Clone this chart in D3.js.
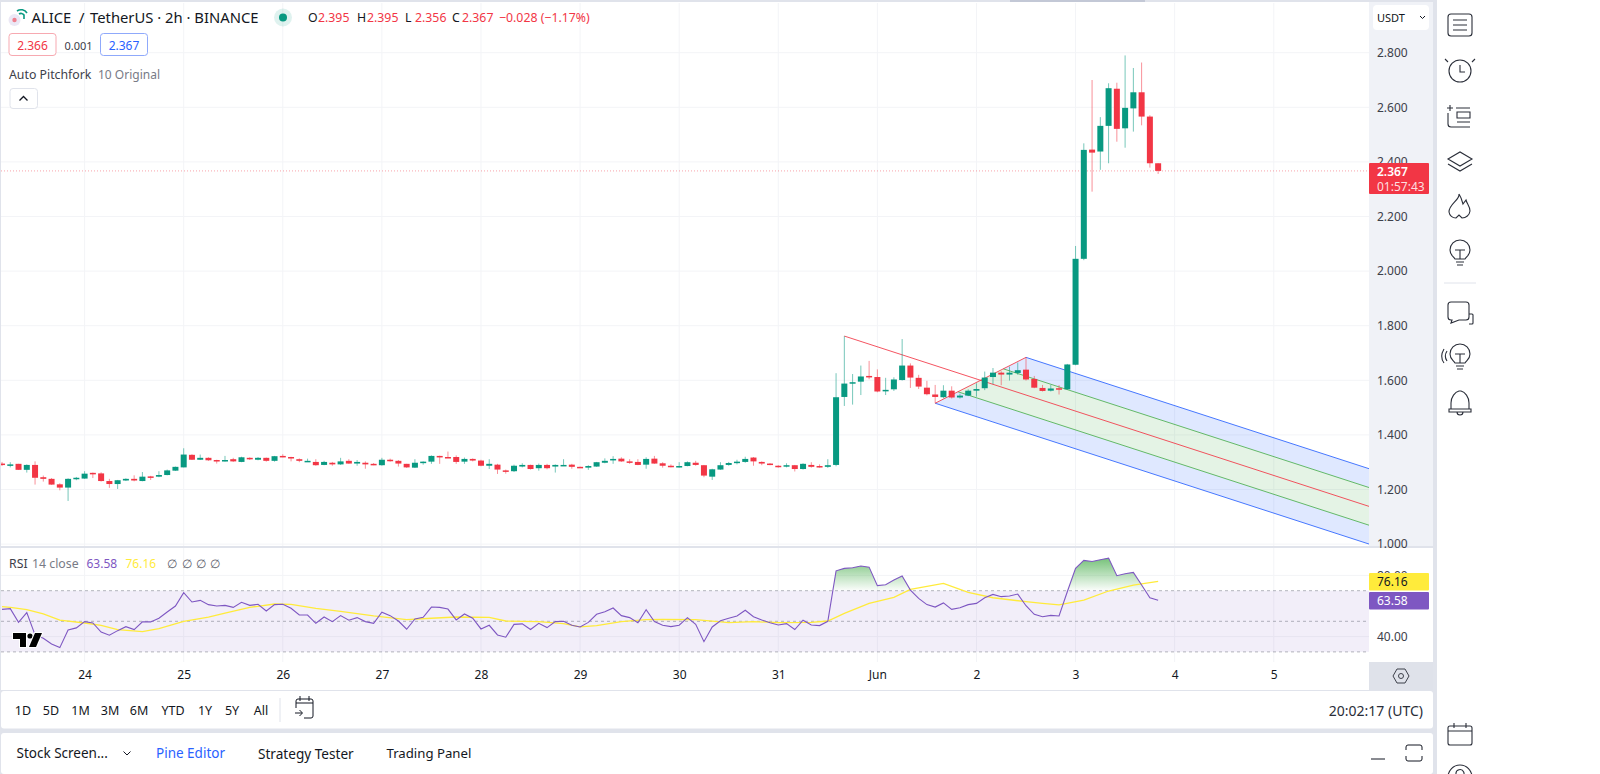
<!DOCTYPE html>
<html>
<head>
<meta charset="utf-8">
<title>ALICE / TetherUS</title>
<script src="https://cdn.jsdelivr.net/npm/d3@7"></script>
<style>
  html, body { margin: 0; padding: 0; background: #fff; overflow: hidden; }
  svg { display: block; font-family: "Noto Sans", sans-serif; }
  .axis path.domain { display: none; }
</style>
</head>
<body>
<svg id="chart" width="1600" height="774"></svg>
<script>
// candles: one value per 2h bar, first bar is 10 bars before the "24" tick
var firstBar = -10;
var openPrices = [1.295,1.289,1.294,1.272,1.290,1.245,1.239,1.219,1.207,1.239,
  1.240,1.261,1.259,1.231,1.220,1.233,1.239,1.231,1.248,1.247,1.253,1.269,1.281,1.327,1.309,1.316,1.308,1.305,1.311,1.301,
  1.316,1.309,1.316,1.305,1.323,1.319,1.311,1.303,1.301,1.290,1.298,1.292,1.305,1.295,1.298,1.294,1.289,1.309,1.305,1.294,
  1.280,1.298,1.302,1.323,1.319,1.319,1.302,1.312,1.306,1.287,1.291,1.270,1.267,1.284,1.290,1.278,1.290,1.284,1.287,1.291,
  1.283,1.280,1.284,1.298,1.307,1.313,1.303,1.301,1.291,1.313,1.296,1.287,1.283,1.286,1.298,1.289,1.247,1.273,1.290,1.297,
  1.301,1.317,1.301,1.295,1.287,1.284,1.289,1.275,1.290,1.286,1.283,
  1.290,1.539,1.588,1.595,1.616,1.612,1.561,1.567,1.601,1.654,1.609,1.573,1.548,1.538,1.562,1.537,1.544,1.562,1.571,1.612,
  1.628,1.621,1.627,1.639,1.605,1.572,1.562,1.571,1.567,1.657,2.045,2.445,2.438,2.532,2.668,2.523,2.596,2.655,2.566,2.395];
var highPrices = [1.301,1.300,1.294,1.292,1.303,1.251,1.242,1.223,1.241,1.246,
  1.267,1.262,1.263,1.239,1.235,1.241,1.252,1.264,1.250,1.267,1.273,1.284,1.351,1.329,1.328,1.318,1.309,1.323,1.316,1.320,
  1.318,1.319,1.317,1.323,1.329,1.320,1.314,1.313,1.311,1.305,1.301,1.316,1.311,1.308,1.303,1.297,1.316,1.313,1.308,1.294,
  1.311,1.303,1.325,1.324,1.339,1.325,1.317,1.314,1.309,1.311,1.294,1.273,1.291,1.296,1.291,1.295,1.294,1.292,1.311,1.294,
  1.284,1.289,1.301,1.314,1.322,1.318,1.311,1.311,1.318,1.323,1.300,1.292,1.300,1.303,1.305,1.290,1.276,1.300,1.301,1.309,
  1.320,1.319,1.303,1.297,1.289,1.296,1.290,1.296,1.300,1.292,1.311,
  1.626,1.762,1.623,1.654,1.671,1.640,1.609,1.611,1.751,1.662,1.620,1.598,1.583,1.582,1.578,1.551,1.567,1.589,1.632,1.645,
  1.633,1.650,1.665,1.684,1.616,1.583,1.583,1.582,1.660,2.092,2.468,2.700,2.564,2.688,2.690,2.790,2.744,2.764,2.571,2.395];
var lowPrices = [1.286,1.281,1.272,1.262,1.218,1.229,1.217,1.197,1.158,1.234,
  1.239,1.242,1.229,1.206,1.202,1.231,1.230,1.230,1.235,1.245,1.252,1.268,1.281,1.308,1.308,1.305,1.295,1.302,1.301,1.300,
  1.308,1.307,1.302,1.302,1.318,1.303,1.300,1.301,1.287,1.289,1.287,1.290,1.294,1.287,1.276,1.289,1.287,1.302,1.284,1.279,
  1.279,1.291,1.294,1.294,1.316,1.294,1.294,1.303,1.285,1.275,1.257,1.258,1.264,1.281,1.273,1.269,1.274,1.262,1.286,1.276,
  1.279,1.272,1.283,1.296,1.294,1.301,1.294,1.289,1.276,1.294,1.280,1.281,1.280,1.285,1.287,1.245,1.235,1.272,1.287,1.292,
  1.298,1.287,1.289,1.289,1.280,1.281,1.266,1.273,1.280,1.280,1.279,
  1.285,1.506,1.511,1.546,1.604,1.556,1.546,1.561,1.599,1.572,1.568,1.545,1.516,1.534,1.533,1.533,1.542,1.540,1.564,1.586,
  1.582,1.599,1.620,1.599,1.571,1.559,1.559,1.548,1.565,1.655,2.040,2.291,2.371,2.395,2.474,2.452,2.511,2.534,2.379,2.356];
var closePrices = [1.290,1.292,1.272,1.290,1.243,1.239,1.218,1.207,1.239,1.243,
  1.258,1.258,1.231,1.220,1.234,1.239,1.233,1.247,1.246,1.253,1.270,1.283,1.328,1.309,1.316,1.307,1.305,1.308,1.303,1.318,
  1.312,1.316,1.305,1.322,1.322,1.316,1.305,1.305,1.289,1.301,1.292,1.303,1.295,1.301,1.292,1.291,1.309,1.305,1.295,1.281,
  1.298,1.302,1.323,1.320,1.317,1.301,1.312,1.306,1.287,1.294,1.273,1.267,1.287,1.290,1.275,1.290,1.278,1.290,1.290,1.283,
  1.280,1.286,1.300,1.305,1.312,1.303,1.298,1.290,1.312,1.295,1.287,1.285,1.286,1.300,1.290,1.251,1.274,1.289,1.297,1.302,
  1.312,1.303,1.295,1.290,1.284,1.289,1.275,1.294,1.283,1.285,1.289,
  1.538,1.588,1.593,1.614,1.612,1.559,1.565,1.603,1.654,1.610,1.577,1.549,1.539,1.562,1.537,1.544,1.562,1.568,1.610,1.628,
  1.621,1.628,1.637,1.603,1.573,1.561,1.570,1.566,1.658,2.045,2.444,2.434,2.532,2.670,2.521,2.598,2.655,2.566,2.395,2.367];

// rsi, same bars as the candles
var rsiValues = [57.8,58.3,49.3,55.7,41.1,38.9,35.2,32.8,44.3,45.7,
  49.8,48.9,43.0,40.9,43.9,46.5,44.6,49.6,49.6,52.0,56.1,60.0,68.7,62.6,63.7,60.9,60.0,60.4,59.1,62.4,
  60.4,61.1,56.7,60.9,61.1,58.5,54.1,54.1,48.7,52.8,49.8,53.7,50.7,52.4,49.8,48.7,55.9,53.7,50.2,44.8,
  51.5,52.6,59.3,59.1,58.0,50.9,54.8,52.0,45.0,47.4,41.1,39.6,48.0,48.3,44.6,48.7,45.9,49.8,50.0,47.4,
  46.3,49.3,54.6,56.3,58.7,53.7,52.4,49.1,57.6,49.8,47.4,46.5,47.4,52.4,48.0,36.7,46.3,50.4,52.0,53.5,
  57.2,53.0,50.9,49.1,47.6,48.5,44.6,50.7,47.6,47.2,50.0,
  83.0,84.6,85.0,86.1,85.4,73.3,73.9,77.0,79.6,70.4,65.0,60.9,59.3,62.0,57.8,58.9,60.9,61.7,65.4,67.6,
  66.1,66.5,67.8,60.2,54.6,53.0,53.9,53.5,69.3,84.6,89.8,89.1,90.2,91.3,79.8,81.1,82.0,73.7,65.4,63.7];

// yellow rsi average, read at its bends
var maBars = [-10,-9,-7,-5,-3,0,2,4,7,9,12,15,17,20,23,25,28,31,35,39,42,45,49,51,55,58,60,62,65,68,70,74,78,81,84,88,90,92,95,98,100,104,107,110,114,116,118,121,124,127,130];
var maValues = [59.6,59.1,57.6,54.8,50.7,48.9,47.4,44.6,43.3,45.2,50.0,52.8,55.4,59.1,61.3,61.1,58.5,56.5,53.5,51.1,52.0,52.8,52.6,50.2,49.8,48.5,46.3,47.2,49.8,51.1,51.3,51.1,49.1,49.8,49.1,49.3,50.2,55.2,61.7,65.7,70.9,74.8,68.9,65.4,62.8,61.7,60.7,63.9,69.8,73.7,76.16];

// pitchfork anchors: handle, upper, lower
var forkBars = [92, 114, 103];
var forkPrices = [1.762, 1.684, 1.516];
var forkEndBar = 156;

var priceTicks = [1.0,1.2,1.4,1.6,1.8,2.0,2.2,2.4,2.6,2.8];
var rsiTicks = [80, 40];
var rsiLevels = [70, 50, 30];
var dayBars = [0,12,24,36,48,60,72,84,96,108,120,132,144];
var dayLabels = ["24","25","26","27","28","29","30","31","Jun","2","3","4","5"];
var rangeLabels = ["1D","5D","1M","3M","6M","YTD","1Y","5Y","All"];
var rangeCenters = [23,51,80.5,110,139,173,205,232,261];

var up = "#089981", down = "#f23645", gridCol = "#f3f4f7", bg = "#e0e3eb", textCol = "#131722", muted = "#5d606b";
var paneRight = 1369;

var svg = d3.select("#chart");
var x = d3.scaleLinear().domain([0, 144]).range([84.6, 84.6 + 144 * 8.258]);
var y = d3.scaleLinear().domain([1.0, 2.8]).range([544.1, 52.7]);
var r = d3.scaleLinear().domain([30, 70]).range([651.9, 590.7]);

function label(sel, txt, px, py, col, size, anchor, weight) {
  return sel.append("text").attr("x", px).attr("y", py).attr("fill", col || textCol)
    .attr("font-size", size || 12).attr("text-anchor", anchor || "start")
    .attr("font-weight", weight || 400).attr("dominant-baseline", "central").text(txt);
}
function box(sel, bx, by, w, h, fill, rx, stroke) {
  return sel.append("rect").attr("x", bx).attr("y", by).attr("width", w).attr("height", h)
    .attr("fill", fill).attr("rx", rx || 0).attr("stroke", stroke || "none");
}

// panels
box(svg, 0, 0, 1437, 774, bg);
box(svg, 1437, 0, 163, 774, "#fff");
box(svg, 1, 2, 1432, 688, "#fff");
box(svg, 1, 691, 1432, 37.5, "#fff", 3);
box(svg, 1, 733, 1432, 41, "#fff", 3);
box(svg, 1010, 0, 135, 2, "#c3c8d6");
box(svg, paneRight, 2, 64, 544.5, "#f0f2f7");
box(svg, paneRight, 662, 64, 28, "#dfe2ea");

var defs = svg.append("defs");
defs.append("clipPath").attr("id", "mainClip").append("rect")
  .attr("x", 1).attr("y", 3).attr("width", paneRight - 1).attr("height", 543);
defs.append("clipPath").attr("id", "obClip").append("rect")
  .attr("x", 1).attr("y", 547).attr("width", paneRight - 1).attr("height", r(70) - 547);
var grad = defs.append("linearGradient").attr("id", "obFill").attr("gradientUnits", "userSpaceOnUse")
  .attr("x1", 0).attr("x2", 0).attr("y1", r(91)).attr("y2", r(70));
grad.append("stop").attr("offset", 0).attr("stop-color", "#4caf50").attr("stop-opacity", 0.75);
grad.append("stop").attr("offset", 1).attr("stop-color", "#4caf50").attr("stop-opacity", 0.02);

// grid
var grid = svg.append("g").attr("stroke", gridCol).attr("stroke-width", 1);
dayBars.forEach(function(b) {
  grid.append("line").attr("x1", x(b)).attr("x2", x(b)).attr("y1", 3).attr("y2", 662);
});
priceTicks.forEach(function(p) {
  grid.append("line").attr("x1", 1).attr("x2", paneRight).attr("y1", y(p)).attr("y2", y(p));
});
grid.append("line").attr("x1", 1).attr("x2", paneRight).attr("y1", r(80)).attr("y2", r(80));
grid.append("line").attr("x1", 1).attr("x2", paneRight).attr("y1", r(40)).attr("y2", r(40));

// pitchfork
var main = svg.append("g").attr("clip-path", "url(#mainClip)");
var midBar = (forkBars[1] + forkBars[2]) / 2, midPrice = (forkPrices[1] + forkPrices[2]) / 2;
var forkSlope = (midPrice - forkPrices[0]) / (midBar - forkBars[0]);
function forkEdge(level) {
  var b0 = midBar + level * (forkBars[1] - midBar), p0 = midPrice + level * (forkPrices[1] - midPrice);
  return [[x(b0), y(p0)], [x(forkEndBar), y(p0 + (forkEndBar - b0) * forkSlope)]];
}
function forkBand(a, b, col) {
  var e1 = forkEdge(a), e2 = forkEdge(b);
  main.append("path").attr("d", d3.line()([e1[0], e1[1], e2[1], e2[0]]) + "Z").attr("fill", col).attr("fill-opacity", 0.15);
}
forkBand(0.5, 1, "#2962ff");
forkBand(-1, -0.5, "#2962ff");
forkBand(-0.5, 0.5, "#4caf50");
[[1, "#2962ff"], [-1, "#2962ff"], [0.5, "#4caf50"], [-0.5, "#4caf50"]].forEach(function(l) {
  main.append("path").attr("d", d3.line()(forkEdge(l[0]))).attr("stroke", l[1]).attr("fill", "none").attr("opacity", 0.85);
});
main.append("path").attr("d", d3.line()([[x(forkBars[0]), y(forkPrices[0])], forkEdge(0)[1]]))
  .attr("stroke", down).attr("fill", "none").attr("opacity", 0.85);
main.append("path").attr("d", d3.line()([[x(forkBars[2]), y(forkPrices[2])], [x(forkBars[1]), y(forkPrices[1])]]))
  .attr("stroke", down).attr("fill", "none").attr("opacity", 0.85);

// last price line
main.append("line").attr("x1", 1).attr("x2", paneRight).attr("y1", y(2.367)).attr("y2", y(2.367))
  .attr("stroke", down).attr("stroke-opacity", 0.45).attr("stroke-dasharray", "1 2");

// candles
var bars = main.selectAll("g.bar").data(d3.range(openPrices.length)).join("g").attr("class", "bar")
  .attr("fill", function(i) { return closePrices[i] >= openPrices[i] ? up : down; })
  .attr("stroke", function(i) { return closePrices[i] >= openPrices[i] ? up : down; });
bars.append("line")
  .attr("x1", function(i) { return x(i + firstBar); }).attr("x2", function(i) { return x(i + firstBar); })
  .attr("y1", function(i) { return y(highPrices[i]); }).attr("y2", function(i) { return y(lowPrices[i]); })
  .attr("stroke-opacity", 0.55);
bars.append("rect").attr("stroke", "none")
  .attr("x", function(i) { return x(i + firstBar) - 3; }).attr("width", 6)
  .attr("y", function(i) { return y(Math.max(openPrices[i], closePrices[i])); })
  .attr("height", function(i) { return Math.max(1.5, Math.abs(y(openPrices[i]) - y(closePrices[i]))); });

// rsi pane
box(svg, 1, 546, 1432, 2, bg);
box(svg, 1, r(70), paneRight - 1, r(30) - r(70), "#7e57c2").attr("fill-opacity", 0.1);
rsiLevels.forEach(function(v) {
  svg.append("line").attr("x1", 1).attr("x2", paneRight).attr("y1", r(v)).attr("y2", r(v))
    .attr("stroke", "#787b86").attr("stroke-opacity", 0.55).attr("stroke-dasharray", "3 3");
});
var rsiBars = rsiValues.map(function(v, i) { return i + firstBar; });
svg.append("path").attr("clip-path", "url(#obClip)").attr("fill", "url(#obFill)")
  .attr("d", d3.area().x(function(b) { return x(b); }).y0(r(70))
    .y1(function(b) { return r(rsiValues[b - firstBar]); })(rsiBars));
svg.append("path").attr("fill", "none").attr("stroke", "#ffeb3b").attr("stroke-width", 1.3)
  .attr("d", d3.line().x(function(b) { return x(b); }).y(function(b, i) { return r(maValues[i]); })(maBars));
svg.append("path").attr("fill", "none").attr("stroke", "#7e57c2").attr("stroke-width", 1.1)
  .attr("d", d3.line().x(function(b) { return x(b); }).y(function(b) { return r(rsiValues[b - firstBar]); })(rsiBars));

// axes
var priceAxis = svg.append("g").attr("class", "axis").attr("transform", "translate(" + paneRight + ",0)")
  .call(d3.axisRight(y).tickValues(priceTicks).tickSize(0).tickPadding(8).tickFormat(d3.format(".3f")));
var rsiAxis = svg.append("g").attr("class", "axis").attr("transform", "translate(" + paneRight + ",0)")
  .call(d3.axisRight(r).tickValues(rsiTicks).tickSize(0).tickPadding(8).tickFormat(d3.format(".2f")));
var timeAxis = svg.append("g").attr("class", "axis").attr("transform", "translate(0,662)")
  .call(d3.axisBottom(x).tickValues(dayBars).tickSize(0).tickPadding(8)
    .tickFormat(function(d, i) { return dayLabels[i]; }));
svg.selectAll(".axis text").attr("font-size", 12).attr("font-family", '"Noto Sans", sans-serif').attr("fill", textCol);
priceAxis.selectAll("text").attr("fill", "#3d404a");
rsiAxis.selectAll("text").attr("fill", "#3d404a");

// price tags
box(svg, paneRight, 163, 60, 31, down, 1);
label(svg, "2.367", 1377, 171.5, "#fff", 12, "start", 600);
label(svg, "01:57:43", 1377, 186, "#fff", 12).attr("fill-opacity", 0.85);
box(svg, paneRight, 573, 60, 17.5, "#ffeb3b", 1);
label(svg, "76.16", 1377, 581.5, textCol, 12);
box(svg, paneRight, 592, 60, 17.5, "#7e57c2", 1);
label(svg, "63.58", 1377, 600.5, "#fff", 12);

// usdt button
box(svg, 1373, 5, 56, 25, "#fff", 4);
label(svg, "USDT", 1377, 17.5, textCol, 11);
svg.append("path").attr("d", "M1420 16l2.5 2.5 2.5-2.5").attr("fill", "none").attr("stroke", textCol);

// header legend
svg.append("circle").attr("cx", 14.5).attr("cy", 20).attr("r", 6).attr("fill", "#ebe8f5");
svg.append("circle").attr("cx", 14.5).attr("cy", 20).attr("r", 2.2).attr("fill", "#ef7f8d");
svg.append("path").attr("d", "M17 11a7 7 0 0 1 10 2M19 14a3.5 3.5 0 0 1 5 1v4").attr("fill", "none").attr("stroke", up).attr("stroke-width", 1.6);
label(svg, "ALICE", 31.5, 17, textCol, 14.8);
label(svg, "/", 79, 17, textCol, 14.8);
label(svg, "TetherUS · 2h · BINANCE", 90, 17, textCol, 14.8);
svg.append("circle").attr("cx", 283).attr("cy", 17.5).attr("r", 9).attr("fill", up).attr("fill-opacity", 0.13);
svg.append("circle").attr("cx", 283).attr("cy", 17.5).attr("r", 4).attr("fill", up);
var ohlcNames = ["O", "H", "L", "C"], ohlcVals = ["2.395", "2.395", "2.356", "2.367"], ohlcX = [308, 357, 405, 452];
ohlcNames.forEach(function(n, i) {
  label(svg, n, ohlcX[i], 17.5, textCol, 12.3);
  label(svg, ohlcVals[i], ohlcX[i] + 10, 17.5, down, 12.3);
});
label(svg, "−0.028 (−1.17%)", 499, 17.5, down, 12.3);
box(svg, 9, 33.5, 47, 22, "#fff", 3, "#f7a9b1");
label(svg, "2.366", 32.5, 45, down, 12, "middle");
label(svg, "0.001", 64.5, 45, "#3d404a", 11);
box(svg, 100.5, 33.5, 47, 22, "#fff", 3, "#8fa9fb");
label(svg, "2.367", 124, 45, "#2962ff", 12, "middle");
label(svg, "Auto Pitchfork", 9, 74.5, "#3d404a", 12.3);
label(svg, "10 Original", 98, 74.5, "#787b86", 12);
box(svg, 10, 88.5, 27.5, 20, "#fff", 3, "#e0e3eb");
svg.append("path").attr("d", "M19.5 100.5l4-4 4 4").attr("fill", "none").attr("stroke", textCol).attr("stroke-width", 1.3);

// rsi legend
label(svg, "RSI", 9, 563, "#3d404a", 12.3);
label(svg, "14 close", 32, 563, "#787b86", 12.3);
label(svg, "63.58", 86.5, 563, "#7e57c2", 12);
label(svg, "76.16", 125.5, 563, "#ffeb3b", 12);
[167, 182, 196, 210].forEach(function(px) { label(svg, "∅", px, 563, muted, 12); });

// logo
var logo = svg.append("g").attr("fill", "#000").attr("stroke", "#fff").attr("stroke-width", 2).attr("paint-order", "stroke");
logo.append("path").attr("d", "M13 633h13v14h-6v-8h-7z");
logo.append("circle").attr("cx", 30).attr("cy", 636).attr("r", 2.6);
logo.append("path").attr("d", "M35 633h7l-6 14h-7z");

// range bar
rangeLabels.forEach(function(t, i) { label(svg, t, rangeCenters[i], 710, textCol, 12.5, "middle"); });
svg.append("line").attr("x1", 280).attr("x2", 280).attr("y1", 698).attr("y2", 722).attr("stroke", bg);
svg.append("path").attr("d", "M296 708v-7a2 2 0 0 1 2-2h13a2 2 0 0 1 2 2v15a2 2 0 0 1-2 2h-7M296 703h17M300 696v5M309 696v5M295 713h7M299.5 710l3 3-3 3")
  .attr("fill", "none").attr("stroke", textCol);
label(svg, "20:02:17 (UTC)", 1423, 710, "#2a2e39", 14, "end");

// bottom tabs
label(svg, "Stock Screen...", 16.5, 753, textCol, 13.5);
svg.append("path").attr("d", "M123.5 751.5l3.5 3.5 3.5-3.5").attr("fill", "none").attr("stroke", textCol);
label(svg, "Pine Editor", 156, 753, "#2962ff", 13.5);
label(svg, "Strategy Tester", 258, 753, textCol, 13.6);
label(svg, "Trading Panel", 386.5, 753, textCol, 13.2);
svg.append("line").attr("x1", 1371).attr("x2", 1385).attr("y1", 759).attr("y2", 759).attr("stroke", textCol);
svg.append("path").attr("d", "M1406 750v-3a2 2 0 0 1 2-2h12a2 2 0 0 1 2 2v3M1406 756v3a2 2 0 0 0 2 2h12a2 2 0 0 0 2-2v-3")
  .attr("fill", "none").attr("stroke", textCol);

// hexagon settings
svg.append("path").attr("d", "M1393 676l4-7h8l4 7-4 7h-8z").attr("fill", "none").attr("stroke", "#3d404a");
svg.append("circle").attr("cx", 1401).attr("cy", 676).attr("r", 2.5).attr("fill", "none").attr("stroke", "#3d404a");

// sidebar icons
var icons = [
  [25, "M-9-11h18a3 3 0 0 1 3 3v16a3 3 0 0 1-3 3h-18a3 3 0 0 1-3-3v-16a3 3 0 0 1 3-3M-7-5h14M-7 0h14M-7 5h14"],
  [71, "M11 0a11 11 0 1 1-22 0a11 11 0 1 1 22 0M0-6v7h5M-12-9l-3-3M12-9l3-3"],
  [116, "M-13-8h6M-10-11v6M-4-8h14M-3-4h13v6h-13zM-3 6h13M-12-3v11a3 3 0 0 0 3 3h19"],
  [161, "M-12-2l12-7 12 7-12 7zM-12 3l12 7 12-7"],
  [207, "M-1-13c1 6-10 10-10 18a7 7 0 0 0 7 6l3-3 3 3a8 8 0 0 0 8-7c0-5-3-7-4-11l-3 4c-1-4-2-7-4-10"],
  [253, "M-5 6c-2-3-5-4-5-9a10 10 0 0 1 20 0c0 5-3 6-5 9zM-4 9h8M-3 12h6M-5-3h10M0-3v9"],
  [313, "M-9-11h15a3 3 0 0 1 3 3v12a3 3 0 0 1-3 3h-7l-8 3 1-3h-1a3 3 0 0 1-3-3v-12a3 3 0 0 1 3-3M9 1h3a1 1 0 0 1 1 1v8a1 1 0 0 1-1 1h-3"],
  [357, "M-5 6c-2-3-5-4-5-9a10 10 0 0 1 20 0c0 5-3 6-5 9zM-4 9h8M-3 12h6M-5-3h10M0-3v9M-13-6c-2 3-2 7 0 10M-16-8c-3 5-3 10 0 14"],
  [402, "M-9 7v-6c0-6 4-11 8-12h2c4 1 8 6 8 12v6M-11 7h22v3h-22zM-3 10c0 4 6 4 6 0"],
  [734, "M-12-6a2 2 0 0 1 2-2h20a2 2 0 0 1 2 2v15a2 2 0 0 1-2 2h-20a2 2 0 0 1-2-2zM-6-11v5M6-11v5M-12-3h24"],
  [777, "M12 0a12 12 0 1 1-24 0a12 12 0 1 1 24 0M-4-3a4 4 0 1 1 6 3l-2 2"]
];
svg.append("g").attr("fill", "none").attr("stroke", "#2a2e39").attr("stroke-width", 1.1)
  .selectAll("path").data(icons).join("path")
  .attr("transform", function(d) { return "translate(1460," + d[0] + ")"; })
  .attr("d", function(d) { return d[1]; });
svg.append("line").attr("x1", 1444).attr("x2", 1476).attr("y1", 283).attr("y2", 283).attr("stroke", bg);
</script>
</body>
</html>
